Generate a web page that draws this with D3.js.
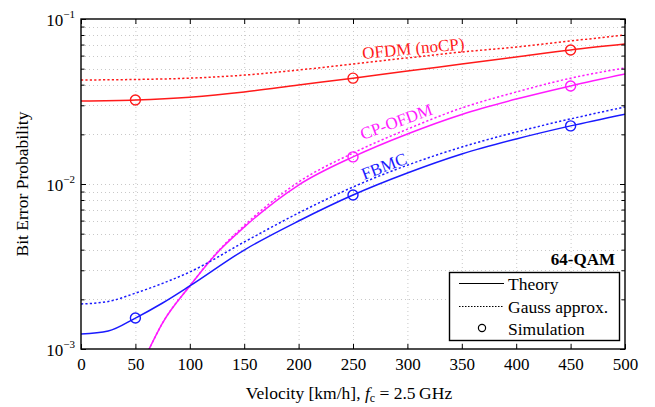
<!DOCTYPE html>
<html>
<head>
<meta charset="utf-8">
<script src="https://cdn.jsdelivr.net/npm/d3@7"></script>
<style>
  html, body { margin: 0; padding: 0; background: #fff; }
  svg { display: block; }
  text { font-family: "Liberation Serif", "Times New Roman", serif; }
</style>
</head>
<body>
<svg id="chart" width="655" height="407"></svg>
<script>
// ---------------- data ----------------
const xTicks = [0, 50, 100, 150, 200, 250, 300, 350, 400, 450, 500];
const yMajor = [1e-3, 1e-2, 1e-1];
const yTickExp = ["\u22123", "\u22122", "\u22121"];

const ofdmVelocity = [0, 50, 100, 150, 200, 250, 300, 350, 400, 450, 500];
const ofdmTheory = [3.18e-2, 3.23e-2, 3.36e-2, 3.61e-2, 3.98e-2, 4.38e-2, 4.84e-2, 5.33e-2, 5.88e-2, 6.49e-2, 7.05e-2];
const ofdmGauss  = [4.27e-2, 4.30e-2, 4.38e-2, 4.57e-2, 4.91e-2, 5.33e-2, 5.81e-2, 6.31e-2, 6.76e-2, 7.36e-2, 8.0e-2];

const cpVelocity = [62, 75, 100, 125, 150, 200, 250, 300, 350, 400, 450, 500];
const cpTheory = [0.98e-3, 1.44e-3, 2.41e-3, 3.82e-3, 5.48e-3, 9.86e-3, 1.46e-2, 2.01e-2, 2.64e-2, 3.27e-2, 3.93e-2, 4.64e-2];
const cpGauss  = [0.98e-3, 1.44e-3, 2.41e-3, 3.85e-3, 5.6e-3, 1.028e-2, 1.54e-2, 2.15e-2, 2.89e-2, 3.61e-2, 4.38e-2, 5.05e-2];

const fbmcVelocity = [0, 25, 50, 75, 100, 150, 200, 250, 300, 350, 400, 450, 500];
const fbmcTheory = [1.233e-3, 1.285e-3, 1.54e-3, 1.9e-3, 2.41e-3, 3.98e-3, 5.97e-3, 8.58e-3, 1.166e-2, 1.52e-2, 1.875e-2, 2.25e-2, 2.65e-2];
const fbmcGauss  = [1.875e-3, 1.94e-3, 2.18e-3, 2.5e-3, 2.93e-3, 4.45e-3, 6.67e-3, 9.59e-3, 1.30e-2, 1.675e-2, 2.065e-2, 2.48e-2, 2.93e-2];

const ofdmSimVelocity = [50, 250, 450];
const ofdmSim = [3.23e-2, 4.38e-2, 6.49e-2];
const cpSimVelocity = [250, 450];
const cpSim = [1.46e-2, 3.93e-2];
const fbmcSimVelocity = [50, 250, 450];
const fbmcSim = [1.54e-3, 8.58e-3, 2.25e-2];

const seriesNames = ["OFDM (noCP)", "CP-OFDM", "FBMC"];
const legendLabels = ["Theory", "Gauss approx.", "Simulation"];
const xLabelMain = "Velocity [km/h], ";
const yLabel = "Bit Error Probability";
const annotation = "64-QAM";

// ---------------- layout ----------------
const W = 655, H = 407;
const m = { left: 81, right: 30, top: 19, bottom: 58 };
const x0 = m.left, x1 = W - m.right, y0 = H - m.bottom, y1 = m.top;

const svg = d3.select("#chart");
const x = d3.scaleLinear().domain([0, 500]).range([x0, x1]);
const y = d3.scaleLog().domain([1e-3, 1e-1]).range([y0, y1]);

const RED = "#ff1a1a", MAG = "#ff1aff", BLUE = "#1a1aff";

// minor tick values
const yMinor = [];
for (let d = -3; d < -1; d++) for (let k = 2; k <= 9; k++) yMinor.push(k * Math.pow(10, d));

// ---------------- grid ----------------
const grid = svg.append("g").attr("stroke", "#c8c8c8").attr("stroke-width", 1).attr("stroke-dasharray", "1,3");
grid.selectAll("line.gx").data(xTicks.slice(1, -1)).join("line")
  .attr("x1", d => x(d) + 0.5).attr("x2", d => x(d) + 0.5).attr("y1", y1).attr("y2", y0);
grid.selectAll("line.gy").data(yMinor.concat([1e-2])).join("line")
  .attr("y1", d => Math.round(y(d)) + 0.5).attr("y2", d => Math.round(y(d)) + 0.5).attr("x1", x0).attr("x2", x1);

// ---------------- curves ----------------
svg.append("clipPath").attr("id", "clip").append("rect")
  .attr("x", x0).attr("y", y1).attr("width", x1 - x0).attr("height", y0 - y1);
const plot = svg.append("g").attr("clip-path", "url(#clip)");
const line = d3.line().x(d => x(d[0])).y(d => y(d[1])).curve(d3.curveMonotoneX);
const zip = (a, b) => a.map((v, i) => [v, b[i]]);

const curves = [
  { v: ofdmVelocity, d: ofdmGauss, c: RED, dash: true },
  { v: ofdmVelocity, d: ofdmTheory, c: RED, dash: false },
  { v: cpVelocity, d: cpGauss, c: MAG, dash: true },
  { v: cpVelocity, d: cpTheory, c: MAG, dash: false },
  { v: fbmcVelocity, d: fbmcGauss, c: BLUE, dash: true },
  { v: fbmcVelocity, d: fbmcTheory, c: BLUE, dash: false }
];
curves.forEach(s => {
  plot.append("path").datum(zip(s.v, s.d))
    .attr("fill", "none").attr("stroke", s.c).attr("stroke-width", 1.5)
    .attr("stroke-dasharray", s.dash ? "2.2,2.2" : null)
    .attr("d", line);
});

const sims = [
  { v: ofdmSimVelocity, d: ofdmSim, c: RED },
  { v: cpSimVelocity, d: cpSim, c: MAG },
  { v: fbmcSimVelocity, d: fbmcSim, c: BLUE }
];
sims.forEach(s => {
  plot.selectAll(null).data(zip(s.v, s.d)).join("circle")
    .attr("cx", d => x(d[0])).attr("cy", d => y(d[1])).attr("r", 5)
    .attr("fill", "none").attr("stroke", s.c).attr("stroke-width", 1.4);
});

// ---------------- curve labels ----------------
const labelPos = [
  { t: seriesNames[0], c: RED, vx: 259, vy: 5.72e-2, a: -5.5 },
  { t: seriesNames[1], c: MAG, vx: 259, vy: 1.85e-2, a: -20 },
  { t: seriesNames[2], c: BLUE, vx: 260, vy: 1.057e-2, a: -21 }
];
svg.selectAll("text.clabel").data(labelPos).join("text")
  .attr("class", "clabel")
  .attr("transform", d => `translate(${x(d.vx)},${y(d.vy)}) rotate(${d.a})`)
  .attr("fill", d => d.c).attr("font-size", 17)
  .text(d => d.t);

// ---------------- axes box & ticks ----------------
const gx = svg.append("g").attr("transform", `translate(0,${y0})`)
  .call(d3.axisBottom(x).tickValues(xTicks).tickSizeInner(-5).tickSizeOuter(0).tickPadding(9));
gx.select(".domain").remove();
gx.selectAll("text").attr("font-size", 17).attr("fill", "#000");
gx.selectAll("line").attr("stroke", "#000");

const gxt = svg.append("g").attr("transform", `translate(0,${y1})`)
  .call(d3.axisTop(x).tickValues(xTicks).tickSizeInner(-5).tickSizeOuter(0).tickFormat(""));
gxt.select(".domain").remove();

const gyl = svg.append("g").attr("transform", `translate(${x0},0)`)
  .call(d3.axisLeft(y).tickValues(yMajor).tickSizeInner(-5).tickSizeOuter(0).tickFormat(""));
gyl.select(".domain").remove();
const gylm = svg.append("g").attr("transform", `translate(${x0},0)`)
  .call(d3.axisLeft(y).tickValues(yMinor).tickSizeInner(-3.5).tickSizeOuter(0).tickFormat(""));
gylm.select(".domain").remove();
const gyr = svg.append("g").attr("transform", `translate(${x1},0)`)
  .call(d3.axisRight(y).tickValues(yMajor).tickSizeInner(-5).tickSizeOuter(0).tickFormat(""));
gyr.select(".domain").remove();
const gyrm = svg.append("g").attr("transform", `translate(${x1},0)`)
  .call(d3.axisRight(y).tickValues(yMinor).tickSizeInner(-3.5).tickSizeOuter(0).tickFormat(""));
gyrm.select(".domain").remove();
svg.selectAll(".tick line").attr("stroke", "#000").attr("stroke-width", 1);

svg.append("rect").attr("x", x0).attr("y", y1).attr("width", x1 - x0).attr("height", y0 - y1)
  .attr("fill", "none").attr("stroke", "#000").attr("stroke-width", 1.4);

// y tick labels 10^n
const yl = svg.selectAll("text.ylab").data(yMajor).join("text")
  .attr("class", "ylab").attr("text-anchor", "end")
  .attr("x", x0 - 6).attr("y", d => y(d) + 7).attr("font-size", 17).attr("fill", "#000");
yl.append("tspan").text("10");
yl.append("tspan").attr("font-size", 11).attr("dy", -8).text((d, i) => yTickExp[i]);

// axis labels
const xl = svg.append("text").attr("x", (x0 + x1) / 2 - 4).attr("y", 399)
  .attr("text-anchor", "middle").attr("font-size", 17.5).attr("fill", "#000");
xl.append("tspan").text(xLabelMain);
xl.append("tspan").attr("font-style", "italic").text("f");
xl.append("tspan").attr("font-size", 12).attr("dy", 3).text("c");
xl.append("tspan").attr("dy", -3).text(" = 2.5\u2009GHz");

svg.append("text").attr("transform", `translate(28,${(y0 + y1) / 2}) rotate(-90)`)
  .attr("text-anchor", "middle").attr("font-size", 17.5).attr("fill", "#000").text(yLabel);

// annotation
svg.append("text").attr("x", 615).attr("y", 265).attr("text-anchor", "end")
  .attr("font-size", 17).attr("font-weight", "bold").attr("fill", "#000").text(annotation);

// ---------------- legend ----------------
const lg = svg.append("g");
lg.append("rect").attr("x", 449.5).attr("y", 272.5).attr("width", 170).attr("height", 68)
  .attr("fill", "#fff").attr("stroke", "#000").attr("stroke-width", 1.4);
const rowsY = [283.5, 306.5, 328];
lg.append("line").attr("x1", 459).attr("x2", 504).attr("y1", rowsY[0]).attr("y2", rowsY[0])
  .attr("stroke", "#000").attr("stroke-width", 1);
lg.append("line").attr("x1", 459).attr("x2", 504).attr("y1", rowsY[1]).attr("y2", rowsY[1])
  .attr("stroke", "#000").attr("stroke-width", 1).attr("stroke-dasharray", "1.5,1.5");
lg.append("circle").attr("cx", 482).attr("cy", rowsY[2]).attr("r", 3.6)
  .attr("fill", "none").attr("stroke", "#000").attr("stroke-width", 1.2);
lg.selectAll("text").data(legendLabels).join("text")
  .attr("x", 508).attr("y", (d, i) => rowsY[i] + 6.5).attr("font-size", 17.5).attr("fill", "#000")
  .text(d => d);
</script>
</body>
</html>
